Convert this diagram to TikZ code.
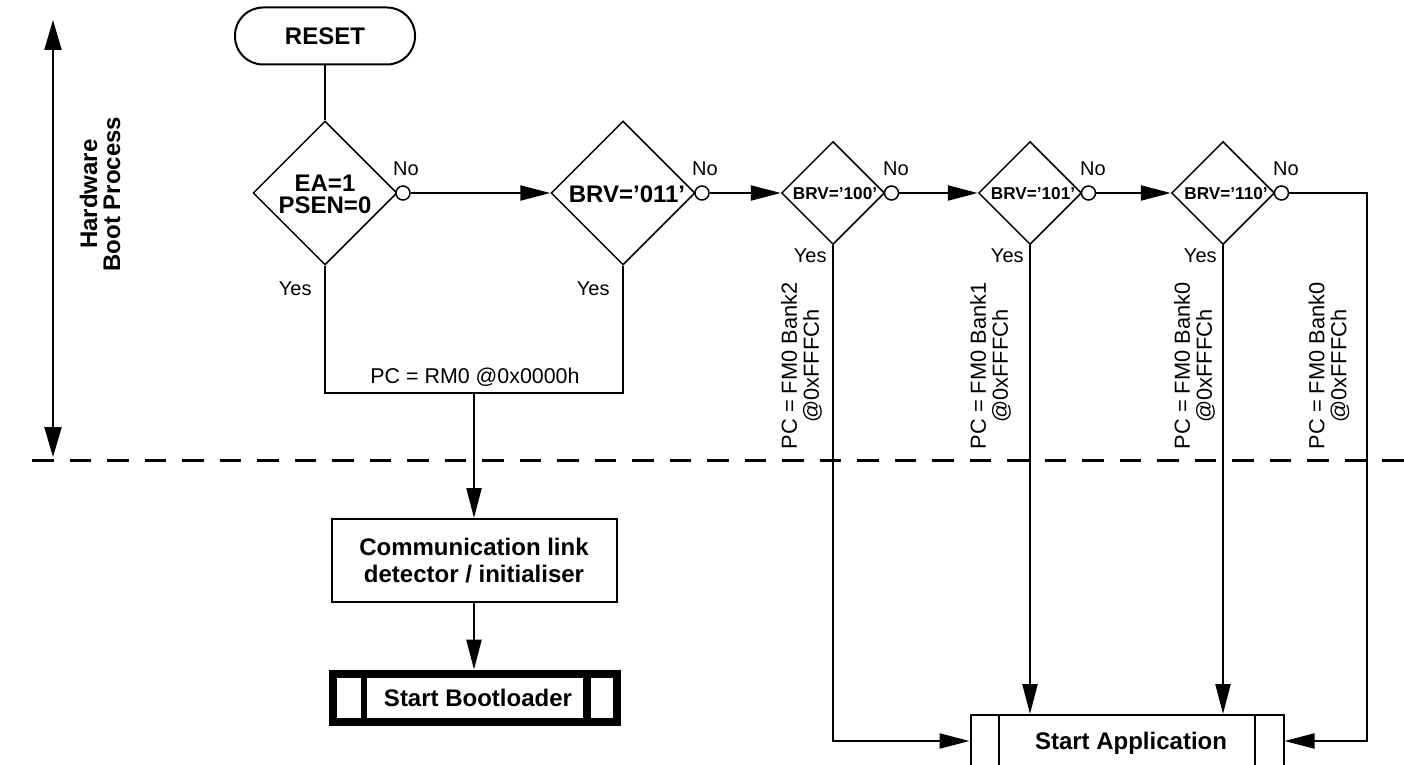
\documentclass[tikz,border=0pt]{standalone}
\usepackage{fontspec}
\setmainfont{Liberation Sans}
\usetikzlibrary{shapes.geometric,arrows.meta}
\begin{document}
\begin{tikzpicture}[x=0.5pt,y=-0.5pt,
  conn/.style={line width=1.1pt},
  arr/.style={conn,-{Triangle[length=15pt,width=7.5pt]}},
  dia/.style={diamond,draw,line width=0.75pt,inner sep=0pt},
  bigdia/.style={minimum width=72pt,minimum height=72pt},
  smalldia/.style={minimum width=51.5pt,minimum height=51.5pt},
  oc/.style={circle,draw,fill=white,line width=0.75pt,inner sep=0pt,minimum size=7pt},
  btxt/.style={font=\fontsize{12}{10.9}\selectfont\bfseries,align=center,inner sep=0pt},
  stxt/.style={font=\fontsize{8.6}{10}\selectfont\bfseries,inner sep=0pt},
  lbl/.style={font=\fontsize{10}{12}\selectfont,inner sep=0pt},
  rlbl/.style={font=\fontsize{10.9}{11}\selectfont,align=center,rotate=90,inner sep=0pt},
]
\useasboundingbox (0,0) rectangle (1404,765);
\clip (0,0) rectangle (1404,765);

% left arrow and title
\coordinate (ht) at (53,20);
\coordinate (hb) at (53,457);
\draw[line width=1.1pt,{Triangle[length=15pt,width=8.5pt]}-{Triangle[length=15pt,width=8.5pt]}] (ht) -- (hb);
\node[btxt,rotate=90,font=\fontsize{12}{11.5}\selectfont\bfseries] (hw) at (100,194) {Hardware\\Boot Process};

% dashed separator
\coordinate (dl) at (32,460);
\coordinate (dr) at (1404,460);
\draw[line width=1.5pt,dash pattern=on 10.75pt off 8pt] (dl) -- (dr);

% RESET
\node[draw,line width=1pt,rounded corners=14pt,minimum width=90pt,minimum height=28.5pt,btxt] (reset) at (325,36) {RESET};

% diamonds
\node[dia,bigdia] (d1) at (325,193) {};
\node[btxt] (t1) at (325,194) {EA=1\\PSEN=0};
\node[dia,bigdia] (d2) at (623,193) {};
\node[btxt] (t2) at (627,194) {BRV=’011’};
\node[dia,smalldia] (d3) at (833,193) {};
\node[stxt] (t3) at (835,194) {BRV=’100’};
\node[dia,smalldia] (d4) at (1030,193) {};
\node[stxt] (t4) at (1033,194) {BRV=’101’};
\node[dia,smalldia] (d5) at (1223,193) {};
\node[stxt] (t5) at (1226,194) {BRV=’110’};

% small circles
\node[oc] (c1) at (403,193) {};
\node[oc] (c2) at (702,193) {};
\node[oc] (c3) at (891.5,193) {};
\node[oc] (c4) at (1088.5,193) {};
\node[oc] (c5) at (1281.5,193) {};

% No labels
\node[lbl] (n1) at (406,169) {No};
\node[lbl] (n2) at (705,169) {No};
\node[lbl] (n3) at (896,169) {No};
\node[lbl] (n4) at (1093,169) {No};
\node[lbl] (n5) at (1286,169) {No};

% Yes labels
\node[lbl,anchor=east] (y1) at (312,289) {Yes};
\node[lbl,anchor=east] (y2) at (610,289) {Yes};
\node[lbl,anchor=east] (y3) at (827,256) {Yes};
\node[lbl,anchor=east] (y4) at (1024,256) {Yes};
\node[lbl,anchor=east] (y5) at (1217,256) {Yes};

% boxes
\node[draw,line width=1pt,btxt,minimum width=142.5pt,minimum height=41.5pt,
  font=\fontsize{12}{13.3}\selectfont\bfseries] (comm) at (474,560.5) {Communication link\\detector / initialiser};

\fill (329,670) rectangle (621,726);
\fill[white] (337,678) rectangle (361,718);
\fill[white] (367,678) rectangle (583,718);
\fill[white] (591,678) rectangle (613,718);
\node[inner sep=0pt,minimum width=146pt,minimum height=28pt] (boot) at (475,698) {};
\node[btxt] (bt) at (478,698) {Start Bootloader};

\node[draw,line width=1pt,inner sep=0pt,minimum width=156.5pt,minimum height=26pt] (app) at (1127,741) {};
\draw[line width=1pt] (999,715) -- (999,770);
\draw[line width=1pt] (1255,715) -- (1255,770);
\node[btxt] (at) at (1131,743) {Start Application};

% connectors
\coordinate (j) at (474,393);
\coordinate (rc) at (1367,741);
\draw[conn] (reset.south) -- (d1.north);
\draw[arr] (c1) -- (d2.west);
\draw[arr] (c2) -- (d3.west);
\draw[arr] (c3) -- (d4.west);
\draw[arr] (c4) -- (d5.west);
\draw[conn] (d1.south) |- (j) -| (d2.south);
\node[lbl,font=\fontsize{10.7}{12}\selectfont] (pc) at (475,377) {PC = RM0 @0x0000h};
\draw[arr] (j) -- (j |- comm.north);
\draw[arr] (comm.south) -- (comm.south |- boot.north);
\draw[arr] (d3.south) |- (app.west);
\draw[arr] (d4.south) -- (d4.south |- app.north);
\draw[arr] (d5.south) -- (d5.south |- app.north);
\draw[arr] (c5) -| (rc) -- (app.east);

% rotated labels
\node[rlbl] (r3) at (801.5,366) {PC = FM0 Bank2\\@0xFFFCh};
\node[rlbl] (r4) at (990.5,366) {PC = FM0 Bank1\\@0xFFFCh};
\node[rlbl] (r5) at (1194.5,366) {PC = FM0 Bank0\\@0xFFFCh};
\node[rlbl] (r6) at (1329,366) {PC = FM0 Bank0\\@0xFFFCh};
\end{tikzpicture}
\end{document}
